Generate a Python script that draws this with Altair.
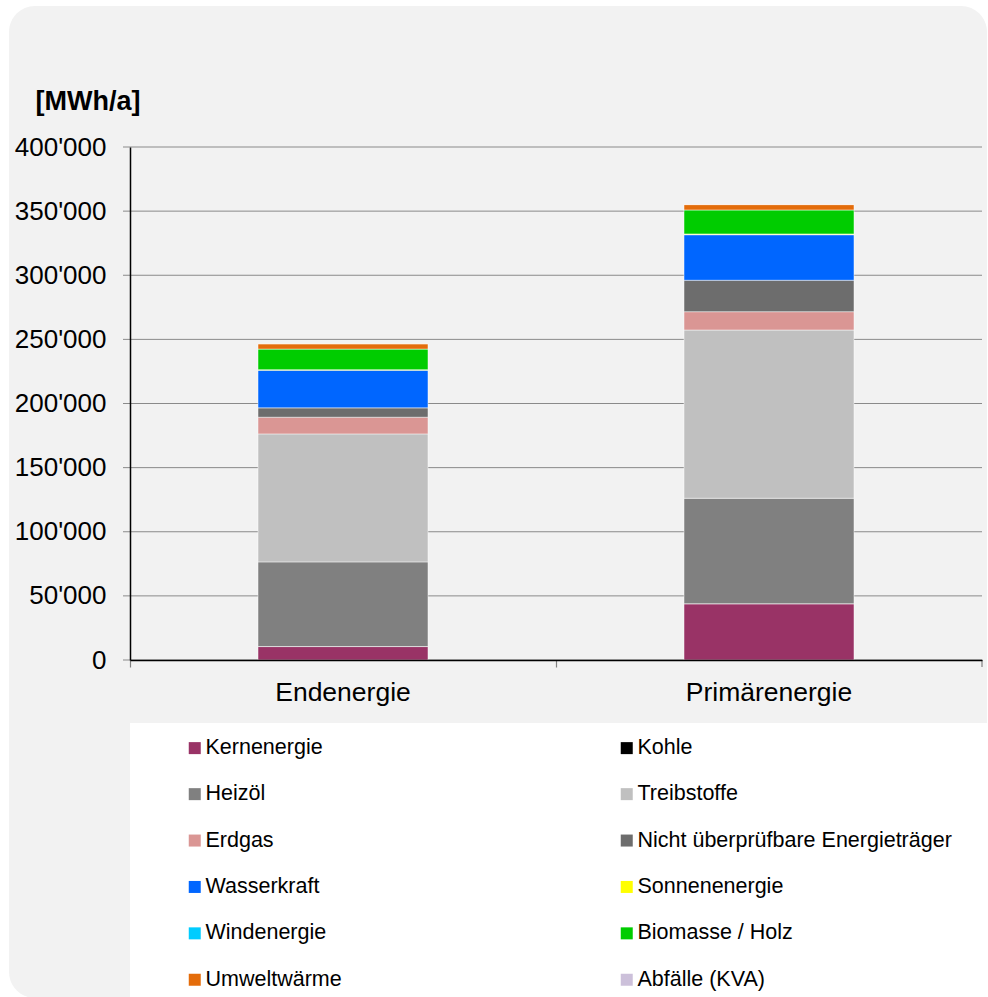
import altair as alt
import pandas as pd

# Energy balance by carrier, MWh per year
categories = ["Endenergie", "Primärenergie"]
sources = [
    "Kernenergie", "Kohle", "Heizöl", "Treibstoffe", "Erdgas",
    "Nicht überprüfbare Energieträger", "Wasserkraft", "Sonnenenergie",
    "Windenergie", "Biomasse / Holz", "Umweltwärme", "Abfälle (KVA)",
]
colors = [
    "#993366", "#000000", "#808080", "#c0c0c0", "#da9694",
    "#6d6d6d", "#0066ff", "#ffff00",
    "#00ccff", "#00cc00", "#e46c0a", "#ccc0da",
]
endenergie = [10500, 0, 66000, 99800, 13000, 7300, 29400, 400, 0, 16000, 4200, 0]
primaerenergie = [43900, 0, 82200, 131200, 14300, 24500, 35500, 600, 0, 18700, 4200, 0]
y_ticks = [0, 50000, 100000, 150000, 200000, 250000, 300000, 350000, 400000]

rows = []
for i, s in enumerate(sources):
    rows.append({"kategorie": categories[0], "traeger": s, "rang": i, "wert": endenergie[i]})
    rows.append({"kategorie": categories[1], "traeger": s, "rang": i, "wert": primaerenergie[i]})
df = pd.DataFrame(rows)
grid_df = pd.DataFrame({"v": y_ticks})
one = pd.DataFrame({"k": [0]})

W, H = 852, 513
FONT = "Liberation Sans"

y_scale = alt.Scale(domain=[0, 400000], nice=False)


def y_axis():
    return alt.Axis(
        title="[MWh/a]", titleAngle=0, titleAlign="left", titleBaseline="alphabetic",
        titleX=-95, titleY=-38, titleFont=FONT, titleFontSize=27,
        titleFontWeight="bold", titleColor="#000000",
        values=y_ticks, grid=False, ticks=False,
        labelExpr="replace(format(datum.value, ','), regexp(',', 'g'), \"'\")",
        labelFont=FONT, labelFontSize=26, labelColor="#000000", labelPadding=24,
        domainColor="#000000", domainWidth=1.5, zindex=1,
    )


# rounded light-grey panel behind the chart
panel = alt.Chart(one).mark_rect(color="#f2f2f2", cornerRadius=26).encode(
    x=alt.value(-121), x2=alt.value(857), y=alt.value(-141), y2=alt.value(851)
)
# white area carrying the legend
legend_box = alt.Chart(one).mark_rect(color="#ffffff").encode(
    x=alt.value(0), x2=alt.value(870), y=alt.value(576), y2=alt.value(870)
)
# horizontal gridlines (extend left as tick marks)
grid = alt.Chart(grid_df).mark_rule(color="#8a8a8a", strokeWidth=1).encode(
    y=alt.Y("v:Q", scale=y_scale, axis=y_axis()),
    x=alt.value(-7), x2=alt.value(W),
)

bars = alt.Chart(df).mark_bar(size=170, stroke="#ffffff", strokeWidth=0.8, strokeOpacity=0.6).encode(
    x=alt.X(
        "kategorie:N",
        sort=categories,
        scale=alt.Scale(domain=categories, paddingInner=0, paddingOuter=0),
        axis=alt.Axis(
            title=None, labelAngle=0, bandPosition=0, labelFont=FONT,
            labelFontSize=26.5, labelColor="#000000", labelPadding=12,
            tickColor="#808080", tickSize=7, tickWidth=1.2,
            domainColor="#000000", domainWidth=1.5, zindex=1,
        ),
    ),
    y=alt.Y("sum(wert):Q", scale=y_scale, stack="zero", axis=y_axis()),
    color=alt.Color(
        "traeger:N",
        scale=alt.Scale(domain=sources, range=colors),
        legend=alt.Legend(
            title=None, orient="none", legendX=54, legendY=590, columns=2,
            direction="horizontal",
            symbolType="square", symbolSize=144, symbolStrokeWidth=0,
            symbolOpacity=1, labelFont=FONT, labelFontSize=21.5,
            labelColor="#000000", labelLimit=500, labelOffset=0,
            rowPadding=23.4, columnPadding=274,
        ),
    ),
    order=alt.Order("rang:Q", sort="ascending"),
)

# closing tick at the right end of the category axis
end_tick = alt.Chart(one).mark_rule(color="#808080", strokeWidth=1.2).encode(
    x=alt.value(W), y=alt.value(H), y2=alt.value(H + 7)
)

chart = alt.layer(panel, legend_box, grid, bars, end_tick).resolve_axis(y="shared").properties(
    width=W, height=H,
    autosize=alt.AutoSizeParams(type="none"),
    padding={"left": 130, "top": 147, "right": 6, "bottom": 337},
    background="#ffffff",
).configure_view(stroke=None)

chart.save("out.html", embed_options={"renderer": "svg", "actions": False})
